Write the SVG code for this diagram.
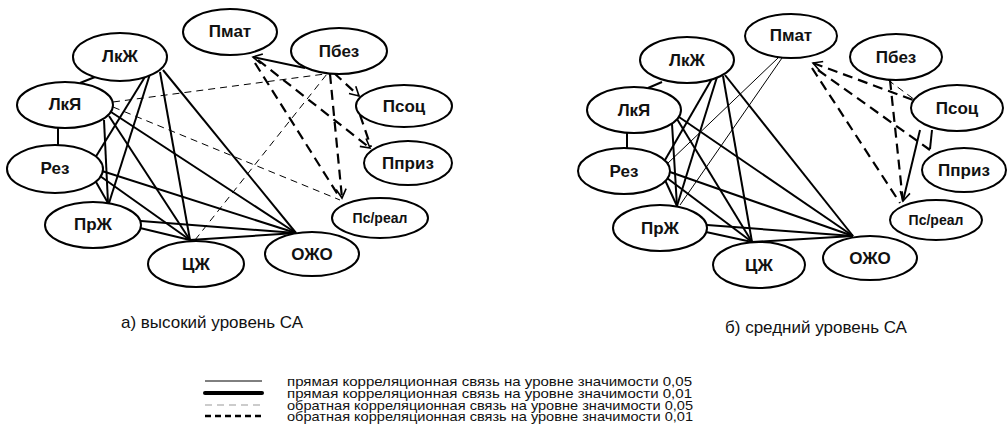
<svg xmlns="http://www.w3.org/2000/svg" width="1007" height="448" viewBox="0 0 1007 448">
<defs>
<marker id="arr" markerUnits="userSpaceOnUse" markerWidth="12" markerHeight="12" refX="9" refY="5" orient="auto" overflow="visible">
<path d="M0,0 L9,5 L0,10" fill="none" stroke="#000" stroke-width="1.6" stroke-dasharray="none"/>
</marker>
<marker id="arrs" markerUnits="userSpaceOnUse" markerWidth="12" markerHeight="12" refX="0" refY="5" orient="auto" overflow="visible">
<path d="M9,0 L0,5 L9,10" fill="none" stroke="#000" stroke-width="1.6" stroke-dasharray="none"/>
</marker>
</defs>
<style>
.n ellipse{fill:#fff;stroke:#000;stroke-width:2}
.n text{font-family:"Liberation Sans",Arial,sans-serif;font-weight:bold;font-size:17px;text-anchor:middle;fill:#111}
.n text.s{font-size:14px}
.c line{stroke:#000;fill:none}
.t{stroke-width:2}
.f{stroke-width:1}
.td{stroke-width:2.2;stroke-dasharray:10 6}
.fd{stroke-width:1;stroke-dasharray:7 5}
.cap{font-family:"Liberation Sans",Arial,sans-serif;font-size:17px;fill:#111;text-anchor:middle}
.lg{font-family:"Liberation Sans",Arial,sans-serif;font-size:13.5px;fill:#111}
</style>

<g id="connectors" class="c">
<!-- left diagram -->
<line class="t" x1="95" y1="77" x2="80" y2="83"/>
<line class="t" x1="58" y1="128" x2="58" y2="145"/>
<line class="t" x1="148" y1="72" x2="95" y2="158"/>
<line class="t" x1="150" y1="74" x2="109" y2="203"/>
<line class="t" x1="160" y1="72" x2="190" y2="240"/>
<line class="t" x1="163" y1="70" x2="296" y2="233"/>
<line class="t" x1="104" y1="120" x2="108" y2="203"/>
<line class="t" x1="109" y1="116" x2="190" y2="240"/>
<line class="t" x1="111" y1="112" x2="296" y2="233"/>
<line class="t" x1="96" y1="182" x2="108" y2="203"/>
<line class="t" x1="100" y1="176" x2="190" y2="240"/>
<line class="t" x1="102" y1="171" x2="296" y2="233"/>
<line class="t" x1="140" y1="228" x2="190" y2="240"/>
<line class="t" x1="141" y1="221" x2="296" y2="233"/>
<line class="t" x1="190" y1="240" x2="296" y2="233"/>
<line class="t" x1="305" y1="68" x2="253" y2="57" marker-end="url(#arr)"/>
<line class="fd" x1="113" y1="102" x2="325" y2="74"/>
<line class="fd" x1="113" y1="107" x2="340" y2="200"/>
<line class="fd" x1="195" y1="240" x2="327" y2="74"/>
<line class="td" x1="258" y1="60" x2="370" y2="148" marker-end="url(#arr)"/>
<line class="td" x1="255" y1="63" x2="340" y2="198"/>
<line class="td" x1="330" y1="74" x2="342" y2="198" marker-end="url(#arr)"/>
<line class="td" x1="334" y1="73" x2="359" y2="96" marker-end="url(#arr)"/>
<line class="td" x1="360" y1="115" x2="371" y2="147"/>
<!-- right diagram -->
<line class="t" x1="662" y1="82" x2="648" y2="88"/>
<line class="t" x1="627" y1="133" x2="627" y2="148"/>
<line class="t" x1="713" y1="77" x2="665" y2="160"/>
<line class="t" x1="717" y1="77" x2="677" y2="206"/>
<line class="t" x1="723" y1="76" x2="752" y2="242"/>
<line class="t" x1="725" y1="75" x2="853" y2="236"/>
<line class="t" x1="672" y1="124" x2="677" y2="206"/>
<line class="t" x1="677" y1="119" x2="752" y2="242"/>
<line class="t" x1="679" y1="117" x2="853" y2="236"/>
<line class="t" x1="665" y1="180" x2="677" y2="206"/>
<line class="t" x1="667" y1="178" x2="752" y2="242"/>
<line class="t" x1="670" y1="172" x2="853" y2="236"/>
<line class="t" x1="706" y1="232" x2="752" y2="242"/>
<line class="t" x1="707" y1="225" x2="853" y2="236"/>
<line class="t" x1="752" y1="242" x2="853" y2="236"/>
<line class="t" x1="920" y1="130" x2="903" y2="201" marker-end="url(#arr)"/>
<line class="t" x1="932" y1="130" x2="930" y2="149"/>
<line class="f" x1="778" y1="58" x2="667" y2="164"/>
<line class="f" x1="782" y1="58" x2="680" y2="205"/>
<line class="td" x1="813" y1="63" x2="913" y2="100" marker-start="url(#arrs)"/>
<line class="td" x1="818" y1="70" x2="930" y2="150"/>
<line class="td" x1="812" y1="68" x2="900" y2="203"/>
<line class="td" x1="890" y1="80" x2="903" y2="202"/>
<line class="fd" x1="888" y1="80" x2="915" y2="100"/>
</g>

<g id="a-pmat" class="n"><ellipse cx="230" cy="32" rx="47" ry="23"/><text x="230" y="37">Пмат</text></g>
<g id="a-lkzh" class="n"><ellipse cx="120" cy="57" rx="47" ry="24"/><text x="120" y="62">ЛкЖ</text></g>
<g id="a-lkya" class="n"><ellipse cx="65" cy="105" rx="48" ry="23"/><text x="65" y="110">ЛкЯ</text></g>
<g id="a-rez" class="n"><ellipse cx="55" cy="169" rx="48" ry="24"/><text x="55" y="174">Рез</text></g>
<g id="a-przh" class="n"><ellipse cx="93" cy="225" rx="48" ry="23"/><text x="93" y="230">ПрЖ</text></g>
<g id="a-czh" class="n"><ellipse cx="196" cy="264" rx="48" ry="23"/><text x="196" y="270">ЦЖ</text></g>
<g id="a-ozho" class="n"><ellipse cx="312" cy="254" rx="47" ry="22"/><text x="312" y="260">ОЖО</text></g>
<g id="a-psreal" class="n"><ellipse cx="380" cy="218" rx="48" ry="20"/><text class="s" x="380" y="223">Пс/реал</text></g>
<g id="a-ppriz" class="n"><ellipse cx="408" cy="163" rx="44" ry="22"/><text x="408" y="169">Пприз</text></g>
<g id="a-psoc" class="n"><ellipse cx="404" cy="106" rx="48" ry="21"/><text x="404" y="112">Псоц</text></g>
<g id="a-pbez" class="n"><ellipse cx="339" cy="51" rx="48" ry="23"/><text x="339" y="57">Пбез</text></g>

<g id="b-pmat" class="n"><ellipse cx="791" cy="36" rx="46" ry="22"/><text x="791" y="41">Пмат</text></g>
<g id="b-lkzh" class="n"><ellipse cx="687" cy="60" rx="47" ry="23"/><text x="687" y="66">ЛкЖ</text></g>
<g id="b-lkya" class="n"><ellipse cx="634" cy="110" rx="47" ry="23"/><text x="634" y="116">ЛкЯ</text></g>
<g id="b-rez" class="n"><ellipse cx="624" cy="171" rx="46" ry="23"/><text x="624" y="177">Рез</text></g>
<g id="b-przh" class="n"><ellipse cx="660" cy="228" rx="47" ry="23"/><text x="660" y="234">ПрЖ</text></g>
<g id="b-czh" class="n"><ellipse cx="759" cy="265" rx="46" ry="23"/><text x="759" y="271">ЦЖ</text></g>
<g id="b-ozho" class="n"><ellipse cx="870" cy="258" rx="47" ry="22"/><text x="870" y="264">ОЖО</text></g>
<g id="b-psreal" class="n"><ellipse cx="936" cy="220" rx="46" ry="20"/><text class="s" x="936" y="225">Пс/реал</text></g>
<g id="b-ppriz" class="n"><ellipse cx="964" cy="170" rx="42" ry="22"/><text x="964" y="176">Пприз</text></g>
<g id="b-psoc" class="n"><ellipse cx="957" cy="108" rx="46" ry="23"/><text x="957" y="114">Псоц</text></g>
<g id="b-pbez" class="n"><ellipse cx="896" cy="57" rx="46" ry="23"/><text x="896" y="63">Пбез</text></g>

<text class="cap" x="212" y="328">а) высокий уровень СА</text>
<text class="cap" x="816" y="333">б) средний уровень СА</text>

<g id="legend">
<line x1="205" y1="381" x2="262" y2="381" stroke="#000" stroke-width="1"/>
<line x1="205" y1="393" x2="262" y2="393" stroke="#000" stroke-width="4" stroke-linecap="round"/>
<line x1="205" y1="405" x2="262" y2="405" stroke="#999" stroke-width="1" stroke-dasharray="7 5"/>
<line x1="205" y1="416" x2="262" y2="416" stroke="#000" stroke-width="2.5" stroke-dasharray="6 4"/>
<text class="lg" x="287" y="385.5" textLength="405" lengthAdjust="spacingAndGlyphs">прямая корреляционная связь на уровне значимости 0,05</text>
<text class="lg" x="287" y="397.5" textLength="405" lengthAdjust="spacingAndGlyphs">прямая корреляционная связь на уровне значимости 0,01</text>
<text class="lg" x="287" y="409.5" textLength="406" lengthAdjust="spacingAndGlyphs">обратная корреляционная связь на уровне значимости 0,05</text>
<text class="lg" x="287" y="420.5" textLength="406" lengthAdjust="spacingAndGlyphs">обратная корреляционная связь на уровне значимости 0,01</text>
</g>
</svg>
